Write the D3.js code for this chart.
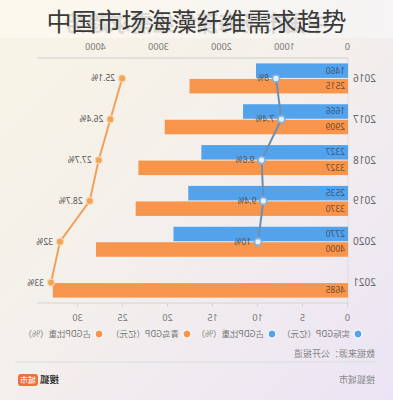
<!DOCTYPE html>
<html><head><meta charset="utf-8">
<script src="https://cdn.jsdelivr.net/npm/d3@7"></script>
<style>html,body{margin:0;padding:0;background:#fff;}svg{display:block;font-family:"Noto Sans CJK SC","Noto Sans",sans-serif;}</style>
</head><body><div id="chart"></div>
<script>
const years = ["2016","2017","2018","2019","2020","2021"];
const gdpActual = [1460,1666,2327,2535,2770,null];
const gdpCity = [2515,2909,3327,3370,4000,4685];
const shareBlue = [8,7.4,9.6,9.4,10,null];
const shareOrange = [25.1,26.4,27.7,28.7,32,33];
const topTicks = [0,1000,2000,3000,4000];
const bottomTicks = [0,5,10,15,20,25,30];
const legendLabels = ["实际GDP（亿元）","占GDP比重（%）","青岛GDP（亿元）","占GDP比重（%）"];
const title = "中国市场海藻纤维需求趋势";

const W=393,H=400;
const BLUE="#52a2ec", ORANGE="#f8954d", BLUELINE="#6d8fb3", ORANGELINE="#f2a05a";
const svg=d3.select("#chart").append("svg").attr("width",W).attr("height",H);
const defs=svg.append("defs");
const bg=defs.append("linearGradient").attr("id","bg").attr("x1","0").attr("y1","0").attr("x2","1").attr("y2","1");
bg.append("stop").attr("offset","0").attr("stop-color","#f8f4e4");
bg.append("stop").attr("offset","0.5").attr("stop-color","#f3efec");
bg.append("stop").attr("offset","1").attr("stop-color","#ebe4f5");
svg.append("rect").attr("width",W).attr("height",H).attr("fill","url(#bg)");
const tg=defs.append("linearGradient").attr("id","tg").attr("x1","0").attr("y1","0").attr("x2","1").attr("y2","0");
tg.append("stop").attr("offset","0").attr("stop-color","#fbf8ec");
tg.append("stop").attr("offset","1").attr("stop-color","#f6f4f4");
svg.append("rect").attr("width",W).attr("height",38).attr("fill","url(#tg)");

// mirrored chart group
const g=svg.append("g").attr("transform",`translate(${W},0) scale(-1,1)`);

const x1=d3.scaleLinear().domain([0,5000]).range([45,360]);
const x2=d3.scaleLinear().domain([0,35]).range([45,360]);
const y=d3.scaleBand().domain(years).range([58,303]);
const cy=d=>y(d)+y.bandwidth()/2;

// ghost title (mirrored, part of the reference image)
g.append("text").attr("x",W/2).attr("y",31).attr("text-anchor","middle")
 .attr("font-size",22).attr("font-weight","bold").attr("fill","#999").attr("opacity",0.3).text(title);

// axes
const topAxis=d3.axisTop(x1).tickValues(topTicks).tickFormat(d3.format("d")).tickSize(0).tickPadding(8);
const ta=g.append("g").attr("transform","translate(0,58)").call(topAxis);
ta.select(".domain").attr("stroke","#cfcfcf").attr("d","M45,0H356");
ta.selectAll("text").attr("font-size",9).attr("fill","#777").attr("font-family","Noto Sans, sans-serif");

const botAxis=d3.axisBottom(x2).tickValues(bottomTicks).tickFormat(d3.format("d")).tickSize(4).tickPadding(8);
const ba=g.append("g").attr("transform","translate(0,303)").call(botAxis);
ba.select(".domain").attr("stroke","#d5d5d5").attr("d","M45,0H356");
ba.selectAll("line").attr("stroke","#d5d5d5");
ba.selectAll("text").attr("font-size",9).attr("fill","#777").attr("font-family","Noto Sans, sans-serif");

g.append("line").attr("x1",45).attr("x2",45).attr("y1",58).attr("y2",303).attr("stroke","#dcdcdc");

// year labels
g.selectAll(".yl").data(years).join("text").attr("x",40).attr("y",d=>cy(d)).attr("dy","0.35em")
 .attr("text-anchor","end").attr("font-size",10).attr("fill","#666").attr("font-family","Noto Sans, sans-serif").text(d=>d);

const bh=14.5;
const rows=years.map((yr,i)=>({yr,a:gdpActual[i],c:gdpCity[i],sb:shareBlue[i],so:shareOrange[i]}));
g.selectAll(".bb").data(rows.filter(r=>r.a!=null)).join("rect")
 .attr("x",x1(0)).attr("y",r=>cy(r.yr)-bh-0.5).attr("width",r=>x1(r.a)-x1(0)).attr("height",bh).attr("fill",BLUE);
g.selectAll(".ob").data(rows).join("rect")
 .attr("x",x1(0)).attr("y",r=>cy(r.yr)+0.5).attr("width",r=>x1(r.c)-x1(0)).attr("height",bh).attr("fill",ORANGE);
g.selectAll(".bt").data(rows.filter(r=>r.a!=null)).join("text")
 .attr("x",48).attr("y",r=>cy(r.yr)-bh/2-0.5).attr("dy","0.35em").attr("font-size",8.5).attr("fill","#35597e").attr("font-family","Noto Sans, sans-serif").text(r=>r.a);
g.selectAll(".ot").data(rows).join("text")
 .attr("x",48).attr("y",r=>cy(r.yr)+bh/2+0.5).attr("dy","0.35em").attr("font-size",8.5).attr("fill","#7a4a22").attr("font-family","Noto Sans, sans-serif").text(r=>r.c);

// lines
const lb=rows.filter(r=>r.sb!=null);
g.append("path").datum(lb).attr("fill","none").attr("stroke",BLUELINE).attr("stroke-width",2)
 .attr("d",d3.line().x(r=>x2(r.sb)).y(r=>cy(r.yr)));
g.append("path").datum(rows).attr("fill","none").attr("stroke",ORANGELINE).attr("stroke-width",2)
 .attr("d",d3.line().x(r=>x2(r.so)).y(r=>cy(r.yr)));
g.selectAll(".bp").data(lb).join("circle").attr("cx",r=>x2(r.sb)).attr("cy",r=>cy(r.yr)).attr("r",3.5)
 .attr("fill","#e8f1fa").attr("stroke","#7fb2e0").attr("stroke-width",1.8);
g.selectAll(".op").data(rows).join("circle").attr("cx",r=>x2(r.so)).attr("cy",r=>cy(r.yr)).attr("r",3.5)
 .attr("fill","#f2a456").attr("stroke","#f8d6b0").attr("stroke-width",1.2);
g.selectAll(".bl").data(lb).join("text").attr("x",r=>x2(r.sb)+7).attr("y",r=>cy(r.yr)).attr("dy","0.35em")
 .attr("font-size",8.5).attr("fill","#555").attr("font-family","Noto Sans, sans-serif").text(r=>r.sb+"%");
g.selectAll(".ol").data(rows).join("text").attr("x",r=>x2(r.so)+7).attr("y",r=>cy(r.yr)).attr("dy","0.35em")
 .attr("font-size",8.5).attr("fill","#555").attr("font-family","Noto Sans, sans-serif").text(r=>r.so+"%");

// legend
const legX=[35,121,206,294], legC=[BLUE,BLUE,ORANGE,ORANGE];
const lg=g.selectAll(".lg").data(legendLabels).join("g").attr("transform",(d,i)=>`translate(${legX[i]},334)`);
lg.append("circle").attr("r",4).attr("fill",(d,i)=>legC[i]).attr("stroke","#fff").attr("stroke-width",1.2);
lg.append("text").attr("x",8).attr("dy","0.35em").attr("font-size",8.5).attr("fill","#777").text(d=>d);

// source and footer
g.append("text").attr("x",18).attr("y",354).attr("dy","0.35em").attr("font-size",9).attr("fill","#888").text("数据来源：公开报道");
g.append("line").attr("x1",16).attr("x2",378).attr("y1",362).attr("y2",362).attr("stroke","#ddd");
g.append("text").attr("x",18).attr("y",380).attr("dy","0.35em").attr("font-size",9).attr("fill","#888").text("搜狐城市");
g.append("text").attr("x",334).attr("y",380).attr("dy","0.35em").attr("font-size",9.5).attr("font-weight","bold").attr("fill","#333").text("搜狐");
g.append("rect").attr("x",355).attr("y",374).attr("width",20).attr("height",12).attr("rx",3).attr("fill","#e8743b");
g.append("text").attr("x",365).attr("y",380).attr("dy","0.35em").attr("text-anchor","middle").attr("font-size",8).attr("fill","#fff").text("城市");

// main title (normal)
svg.append("text").attr("x",W/2).attr("y",31).attr("text-anchor","middle").attr("font-size",25)
 .attr("fill","#3a3a3a").text(title);
</script></body></html>
